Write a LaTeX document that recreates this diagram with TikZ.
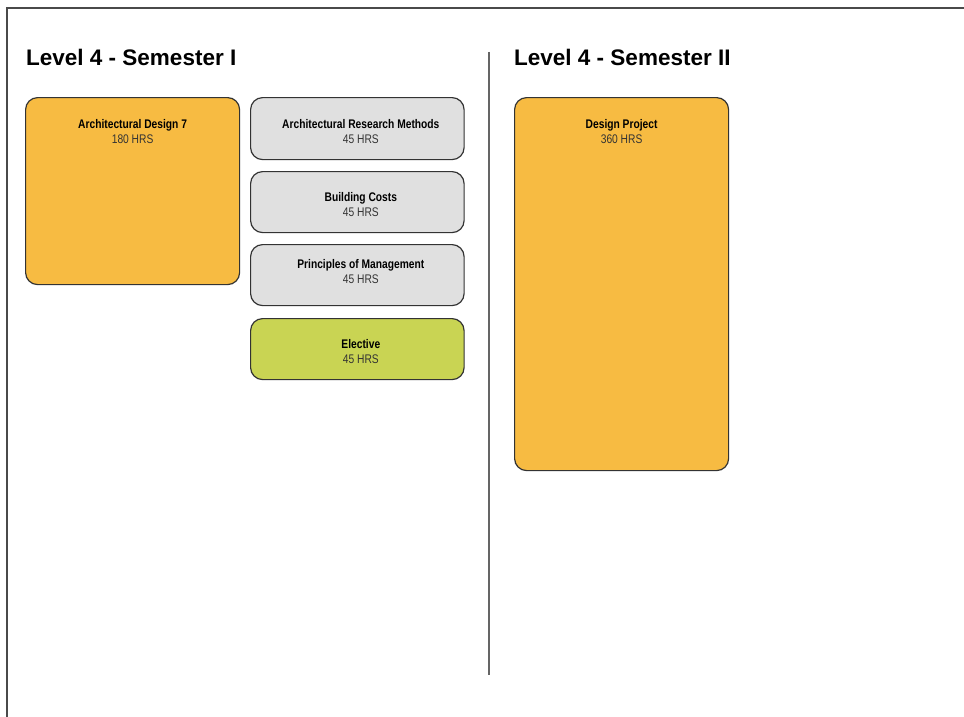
\documentclass[tikz,border=0pt]{standalone}
\usepackage{fontspec}
\setmainfont{Liberation Sans}
\newfontfamily\condfont[FakeStretch=0.82]{Liberation Sans}
\usetikzlibrary{calc}
\definecolor{coreorange}{HTML}{F7BB42}
\definecolor{coregray}{HTML}{E0E0E0}
\definecolor{electgreen}{HTML}{C9D453}
\definecolor{edgegray}{HTML}{333333}
\definecolor{framegray}{HTML}{4A4A4A}
\begin{document}
\begin{tikzpicture}[x=1pt,y=-1pt,
  course/.style={draw=edgegray, line width=1.2pt, rounded corners=12pt,
    minimum width=214pt, anchor=north west, inner sep=0pt},
  % the base anchor of these two-line labels sits on the last line
  coursetext/.style={anchor=base, align=center, inner sep=0pt,
    font=\condfont\fontsize{12.5}{15}\selectfont, text=black},
  heading/.style={anchor=base west, inner sep=0pt,
    font=\bfseries\fontsize{22.5}{26}\selectfont},
  rule/.style={draw=framegray, line width=1.5pt}]
\useasboundingbox (0,0) rectangle (964,717);
\fill[white] (0,0) rectangle (964,717);

% outer frame (top and left edges) and column divider
\coordinate (ftr) at (964,8);
\coordinate (ftl) at (7,8);
\coordinate (fbl) at (7,717);
\draw[rule] (ftr) -- (ftl) -- (fbl);
\coordinate (dtop) at (489,52);
\coordinate (dbot) at (489,675);
\draw[rule, draw=framegray!85] (dtop) -- (dbot);

% headings
\node[heading] (h1) at (26,66) {Level 4 - Semester I};
\node[heading] (h2) at (514,66) {Level 4 - Semester II};

% semester I
\node[course, fill=coreorange, minimum height=187pt] (ad7) at (25,97) {};
\node[course, fill=coregray, minimum height=62pt, minimum width=213.5pt] (arm) at (250,97) {};
\node[course, fill=coregray, minimum height=61pt, minimum width=213.5pt] (bc) at (250,171) {};
\node[course, fill=coregray, minimum height=61pt, minimum width=213.5pt] (pom) at (250,244) {};
\node[course, fill=electgreen, minimum height=61pt, minimum width=213.5pt] (el) at (250,318) {};

% semester II
\node[course, fill=coreorange, minimum height=373pt] (dp) at (514,97) {};

% course labels
\node[coursetext] (ad7t) at ($(ad7.north)+(0,46.5)$) {\textbf{Architectural Design 7}\\\color{edgegray}180 HRS};
\node[coursetext] (armt) at ($(arm.north)+(3.5,46.5)$) {\textbf{Architectural Research Methods}\\\color{edgegray}45 HRS};
\node[coursetext] (bct) at ($(bc.north)+(3.5,45.5)$) {\textbf{Building Costs}\\\color{edgegray}45 HRS};
\node[coursetext] (pomt) at ($(pom.north)+(3.5,39.5)$) {\textbf{Principles of Management}\\\color{edgegray}45 HRS};
\node[coursetext] (elt) at ($(el.north)+(3.5,45.5)$) {\textbf{Elective}\\\color{edgegray}45 HRS};
\node[coursetext] (dpt) at ($(dp.north)+(0,46.5)$) {\textbf{Design Project}\\\color{edgegray}360 HRS};
\end{tikzpicture}
\end{document}
